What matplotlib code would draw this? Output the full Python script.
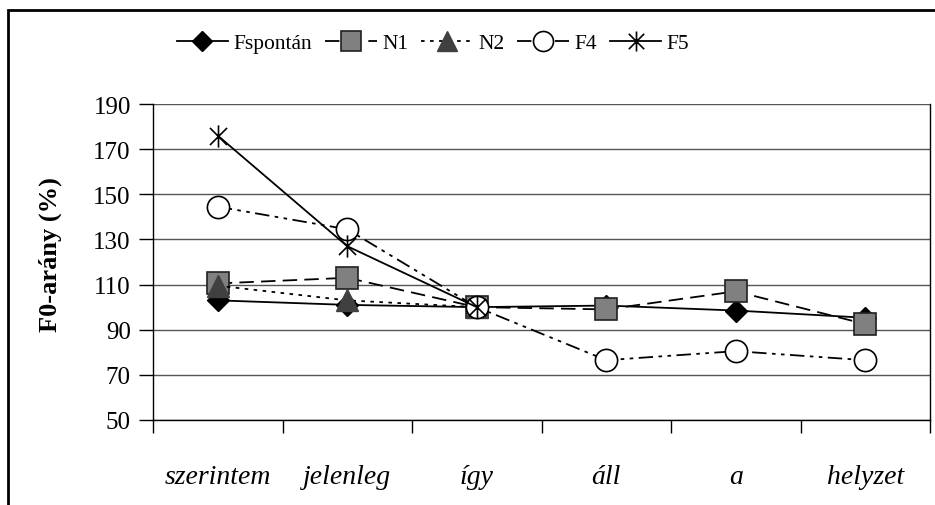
import matplotlib.pyplot as plt
import numpy as np
from matplotlib.path import Path
from matplotlib.patches import Rectangle

plt.rcParams['font.family'] = ['Liberation Serif', 'DejaVu Serif']

# data
words = ['szerintem', 'jelenleg', 'így', 'áll', 'a', 'helyzet']
fspontan = [103, 101, 100, 100.7, 98.5, 95.3]
n1 = [110.5, 113, 100, 99, 107, 92.5]
n2 = [109.5, 103, 100, np.nan, np.nan, np.nan]
f4 = [144.5, 134.5, 100, 76.5, 80.5, 76.5]
f5 = [176, 127, 100, np.nan, np.nan, np.nan]
yticks = [50, 70, 90, 110, 130, 150, 170, 190]

# Excel-style asterisk: an X with a vertical bar
star = Path([(-1, -1), (1, 1), (-1, 1), (1, -1), (0, -1.3), (0, 1.3)],
            [Path.MOVETO, Path.LINETO, Path.MOVETO, Path.LINETO, Path.MOVETO, Path.LINETO])

fig = plt.figure(figsize=(9.35, 5.06), dpi=100)
ax = fig.add_axes([153/935, 1 - 421/506, 777/935, 316/506])

x = np.arange(len(words))
ax.plot(x, fspontan, color='black', lw=1.3, ls='-', marker='D', ms=11,
        mfc='black', mec='black', label='Fspontán', zorder=3)
ax.plot(x, n1, color='black', lw=1.3, ls=(0, (8, 4)), marker='s', ms=16,
        mfc='#808080', mec='#202020', mew=1.2, label='N1', zorder=3)
ax.plot(x, n2, color='black', lw=1.3, ls=(0, (2, 3)), marker='^', ms=16,
        mfc='#404040', mec='#404040', label='N2', zorder=3)
ax.plot(x, f4, color='black', lw=1.3, ls=(0, (8, 3, 2, 3, 2, 3)), marker='o', ms=16,
        mfc='white', mec='black', mew=1.2, label='F4', zorder=3)
ax.plot(x, f5, color='black', lw=1.3, ls='-', marker=star, ms=16,
        mfc='none', mec='black', mew=1.2, label='F5', zorder=3)

ax.set_xlim(-0.5, len(words) - 0.5)
ax.set_ylim(50, 190)
ax.set_yticks(yticks)
ax.set_xticks(np.arange(-0.5, len(words)), [])
ax.set_xticks(x, words, minor=True)
ax.tick_params(axis='x', which='major', direction='out', length=9, width=1)
ax.tick_params(axis='x', which='minor', length=0, pad=32, labelsize=20)
ax.tick_params(axis='y', direction='out', length=10, width=1, labelsize=18, pad=6)
for lab in ax.get_xticklabels(minor=True):
    lab.set_fontstyle('italic')
ax.grid(axis='y', color='#555555', lw=1)
ax.set_axisbelow(True)
for s in ['left', 'bottom', 'right']:
    ax.spines[s].set_linewidth(1)
ax.spines['top'].set_visible(False)

fig.text(50/935, 1 - 255/506, 'F0-arány (%)', rotation=90, fontsize=19,
         fontweight='bold', ha='center', va='center')

fig.legend(loc='center', bbox_to_anchor=(433/935, 1 - 44/506), ncol=5,
           frameon=False, fontsize=15.5, handlelength=2.4, handletextpad=0.25,
           columnspacing=0.6, markerscale=0.9)

# outer frame of the chart
fig.patches.append(Rectangle((8/935, -0.1), 1.1, 1 - 11/506 + 0.1, transform=fig.transFigure,
                             fill=False, lw=2, ec='black'))

fig.savefig('out.png', dpi=100)
